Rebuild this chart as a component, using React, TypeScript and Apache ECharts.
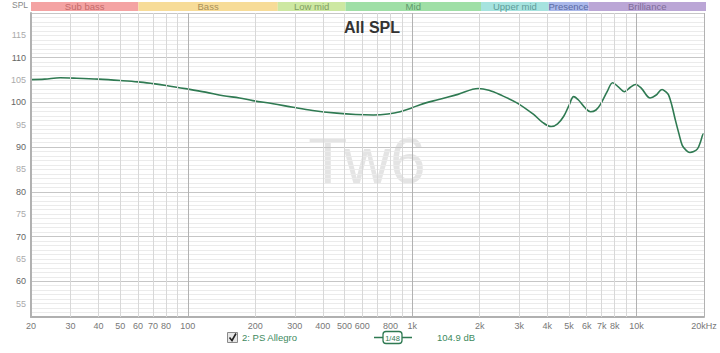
import React, { useEffect, useRef } from 'react';
import * as echarts from 'echarts';

const FONT = '"Liberation Sans", Arial, sans-serif';

// Frequency response (Hz, dB SPL)
const freqs = [
  20, 23, 27, 32, 40, 50, 60, 70, 80, 100, 120, 144, 170, 195, 240, 295, 360, 461, 560, 672,
  780, 884, 1000, 1086, 1300, 1600, 1971, 2200, 2470, 2930, 3480, 3800, 4170, 4450, 4740, 5000,
  5250, 5500, 5900, 6240, 6600, 6900, 7400, 7830, 8300, 8840, 9400, 9900, 10500, 11500, 12200,
  13000, 13500, 13900, 14400, 14900, 15500, 16000, 16700, 17300, 18000, 18700, 19300, 19900, 20000,
];
const spl = [
  105.1, 105.2, 105.5, 105.4, 105.2, 104.9, 104.6, 104.2, 103.8, 103.0, 102.3, 101.5, 101.0, 100.4,
  99.7, 98.9, 98.2, 97.6, 97.3, 97.2, 97.4, 97.9, 98.8, 99.5, 100.6, 101.8, 103.1, 102.7, 101.7,
  99.9, 97.3, 95.6, 94.6, 95.2, 96.9, 99.3, 101.3, 100.6, 98.8, 97.9, 98.3, 99.5, 102.4, 104.4,
  103.5, 102.4, 103.4, 104.0, 103.2, 101.0, 101.6, 102.9, 102.4, 101.7, 99.2, 96.1, 92.8, 90.4,
  89.2, 88.8, 89.0, 89.6, 91.2, 93.0, 92.9,
];

// Axis ticks
const xGridFreqs = [20, 30, 40, 50, 60, 70, 80, 90, 100, 200, 300, 400, 500, 600, 700, 800, 900, 1000, 2000, 3000, 4000, 5000, 6000, 7000, 8000, 9000, 10000, 20000];
const xTickFreqs = [20, 30, 40, 50, 60, 70, 80, 100, 200, 300, 400, 500, 600, 800, 1000, 2000, 3000, 4000, 5000, 6000, 7000, 8000, 10000, 20000];
const xTickLabels = ['20', '30', '40', '50', '60', '70', '80', '100', '200', '300', '400', '500', '600', '800', '1k', '2k', '3k', '4k', '5k', '6k', '7k', '8k', '10k', '20kHz'];
const xMajorFreqs = [20, 100, 1000, 10000, 20000];
const Y_MIN = 52;
const Y_MAX = 120;
const Y_LABEL_MAX = 115;

// Frequency bands
const bandNames = ['Sub bass', 'Bass', 'Low mid', 'Mid', 'Upper mid', 'Presence', 'Brilliance'];
const bandEdges = [20, 60, 250, 500, 2000, 4000, 6000, 20000];
const bandColors = ['#f4a3a3', '#f7dc98', '#cde8a2', '#9fdfa6', '#a6e3df', '#aab8ea', '#bba6d6'];
const bandTextColors = ['#c46a6a', '#a8905a', '#7f9e63', '#5e9a6c', '#5d9c99', '#5b6aa3', '#7d6c99'];

const seriesName = '2: PS Allegro';
const seriesLevel = '104.9 dB';
const smoothing = '1/48';
const LINE_COLOR = '#2f7a52';
const TEXT_GREEN = '#3d8a5e';

export default function App() {
  const ref = useRef<HTMLDivElement>(null);

  useEffect(() => {
    if (!ref.current) return;
    const chart = echarts.init(ref.current, undefined, { renderer: 'svg' });

    const hColors = Array.from({ length: 10 }, (_, i) => ((Y_MIN + i) % 10 === 0 ? '#c6c6c6' : '#ebebeb'));

    const markLineData: any[] = xGridFreqs.map((f) => {
      const li = xTickFreqs.indexOf(f);
      return {
        xAxis: f,
        lineStyle: { color: xMajorFreqs.includes(f) ? '#b2b2b2' : '#d8d8d8', width: 1, type: 'solid' },
        label:
          li >= 0
            ? {
                show: true,
                formatter: xTickLabels[li],
                position: 'start',
                distance: 4,
                fontSize: 9,
                color: '#777',
                fontFamily: FONT,
              }
            : { show: false },
      };
    });

    const points = freqs.map((f, i) => [f, spl[i]]);

    chart.setOption({
      animation: false,
      backgroundColor: '#ffffff',
      title: {
        text: 'All SPL',
        left: 367,
        top: 14,
        textAlign: 'center',
        textStyle: { fontSize: 16, fontWeight: 'bold', color: '#333', fontFamily: FONT },
      },
      grid: [
        { left: 31, right: 16, top: 13, bottom: 36 },
        { left: 31, right: 14, top: 2, height: 9 },
      ],
      xAxis: [
        {
          type: 'log',
          logBase: 10,
          min: 20,
          max: 20000,
          gridIndex: 0,
          axisLine: { show: true, onZero: false, lineStyle: { color: '#b0b0b0', width: 2 } },
          axisTick: { show: false },
          axisLabel: { show: false },
          splitLine: { show: false },
        },
        {
          type: 'log',
          logBase: 10,
          min: 20,
          max: 20000,
          gridIndex: 1,
          show: false,
        },
      ],
      yAxis: [
        {
          type: 'value',
          min: Y_MIN,
          max: Y_MAX,
          interval: 1,
          gridIndex: 0,
          axisLine: { show: true, lineStyle: { color: '#b0b0b0', width: 2 } },
          axisTick: { show: false },
          axisLabel: {
            fontSize: 9,
            margin: 5,
            fontFamily: FONT,
            formatter: (v: number) => (Number(v) % 5 === 0 && Number(v) <= Y_LABEL_MAX ? String(v) : ''),
            color: (v: any) => (Number(v) % 10 === 0 ? '#666' : '#aaa'),
          },
          splitLine: { show: true, lineStyle: { color: hColors, width: 1 } },
        },
        { type: 'value', min: 0, max: 1, gridIndex: 1, show: false },
      ],
      graphic: [
        {
          type: 'text',
          z: -10,
          x: 367,
          y: 161,
          style: {
            text: 'Tw6',
            fontSize: 64,
            fontFamily: FONT,
            fill: '#e4e4e4',
            align: 'center',
            verticalAlign: 'middle',
          },
        },
        {
          type: 'text',
          x: 12,
          y: 5,
          style: { text: 'SPL', fontSize: 8.5, fontFamily: FONT, fill: '#888', verticalAlign: 'middle' },
        },
        {
          type: 'rect',
          shape: { x: 227.5, y: 332.5, width: 10, height: 10 },
          style: { fill: '#e6e6e6', stroke: '#8a8a8a', lineWidth: 1 },
        },
        {
          type: 'polyline',
          shape: { points: [[229.5, 337.5], [232, 340.5], [236, 333.5]] },
          style: { stroke: '#222', lineWidth: 1.6, fill: null },
        },
        {
          type: 'text',
          x: 242,
          y: 337.5,
          style: { text: seriesName, fontSize: 9.5, fontFamily: FONT, fill: TEXT_GREEN, verticalAlign: 'middle' },
        },
        {
          type: 'line',
          shape: { x1: 374, y1: 337.5, x2: 412, y2: 337.5 },
          style: { stroke: LINE_COLOR, lineWidth: 1.5 },
        },
        {
          type: 'rect',
          shape: { x: 383, y: 331.5, width: 19, height: 12, r: 3 },
          style: { fill: '#fff', stroke: LINE_COLOR, lineWidth: 1.3 },
        },
        {
          type: 'text',
          x: 392.5,
          y: 338,
          style: { text: smoothing, fontSize: 7.5, fontFamily: FONT, fill: LINE_COLOR, align: 'center', verticalAlign: 'middle' },
        },
        {
          type: 'text',
          x: 437,
          y: 337.5,
          style: { text: seriesLevel, fontSize: 9.5, fontFamily: FONT, fill: TEXT_GREEN, verticalAlign: 'middle' },
        },
      ],
      series: [
        {
          type: 'line',
          xAxisIndex: 1,
          yAxisIndex: 1,
          data: [[20, 0.5], [20000, 0.5]],
          symbol: 'none',
          lineStyle: { opacity: 0 },
          silent: true,
          markArea: {
            silent: true,
            data: bandNames.map((name, i) => [
              {
                name,
                xAxis: bandEdges[i],
                itemStyle: { color: bandColors[i], opacity: 1 },
                label: { color: bandTextColors[i] },
              },
              { xAxis: bandEdges[i + 1] },
            ]),
            label: { show: true, position: 'inside', fontSize: 9.5, fontFamily: FONT },
          },
        },
        {
          type: 'line',
          z: 1,
          data: points,
          symbol: 'none',
          lineStyle: { width: 0, color: 'rgba(0,0,0,0)' },
          silent: true,
          markLine: {
            silent: true,
            symbol: ['none', 'none'],
            data: markLineData,
          },
        },
        {
          type: 'line',
          z: 3,
          name: seriesName,
          data: points,
          symbol: 'none',
          smooth: 0.35,
          lineStyle: { color: LINE_COLOR, width: 1.6 },
        },
      ],
    });

    return () => chart.dispose();
  }, []);

  return <div ref={ref} style={{ position: 'fixed', left: 0, top: 0, width: 720, height: 353 }} />;
}
